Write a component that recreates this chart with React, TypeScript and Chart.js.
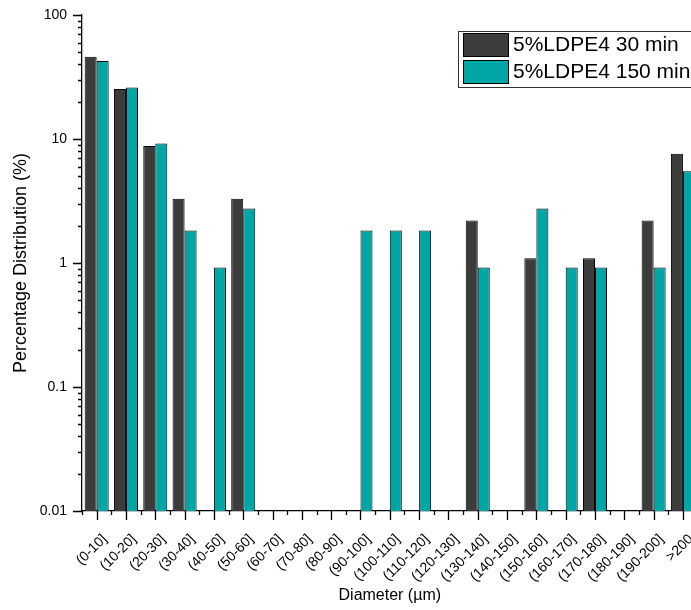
import React, { useEffect, useRef } from "react";
import { Chart, registerables } from "chart.js";

Chart.register(...registerables);

// Diameter classes (µm)
const categories = [
  "(0-10]", "(10-20]", "(20-30]", "(30-40]", "(40-50]", "(50-60]", "(60-70]",
  "(70-80]", "(80-90]", "(90-100]", "(100-110]", "(110-120]", "(120-130]",
  "(130-140]", "(140-150]", "(150-160]", "(160-170]", "(170-180]", "(180-190]",
  "(190-200]", ">200",
];

// Percentage distribution per class; null = empty class
const ldpe30 = [
  46.0, 25.3, 8.8, 3.3, null, 3.3, null, null, null, null, null, null, null,
  2.2, null, 1.09, null, 1.09, null, 2.2, 7.6,
];
const ldpe150 = [
  42.6, 26.0, 9.2, 1.83, 0.92, 2.75, null, null, null, 1.83, 1.83, 1.83, null,
  0.92, null, 2.75, 0.92, 0.92, null, 0.92, 5.5,
];

const seriesNames = ["5%LDPE4 30 min", "5%LDPE4 150 min"];
const seriesColors = ["#3c3c3c", "#00a6a6"];

const yTickLabels = ["0.01", "0.1", "1", "10", "100"];
const yDecades = yTickLabels.map(Number);

const FONT = 'Arial, "Liberation Sans", Helvetica, sans-serif';

const isDecade = (v: number) =>
  yDecades.some((d) => Math.abs(v - d) / d < 1e-6);

// Outward tick marks: long at decades / category centres, short in between
const tickMarks = {
  id: "tickMarks",
  afterDatasetsDraw(chart: any) {
    const { ctx, chartArea, scales } = chart;
    const x = scales.x;
    const y = scales.y;
    ctx.save();
    ctx.strokeStyle = "#000";
    ctx.lineWidth = 1.3;
    ctx.beginPath();
    y.ticks.forEach((t: any) => {
      const py = Math.round(y.getPixelForValue(t.value)) + 0.5;
      const len = isDecade(t.value) ? 9 : 4;
      ctx.moveTo(chartArea.left - len, py);
      ctx.lineTo(chartArea.left, py);
    });
    const n = categories.length;
    for (let i = 0; i < n; i++) {
      const px = Math.round(x.getPixelForValue(i)) + 0.5;
      ctx.moveTo(px, chartArea.bottom);
      ctx.lineTo(px, chartArea.bottom + 9);
    }
    for (let i = 0; i <= n; i++) {
      const px = Math.round(x.getPixelForValue(i - 0.5)) + 0.5;
      ctx.moveTo(px, chartArea.bottom);
      ctx.lineTo(px, chartArea.bottom + 4);
    }
    ctx.stroke();
    ctx.restore();
  },
};

// Boxed legend in the upper right of the plot
const boxLegend = {
  id: "boxLegend",
  afterDraw(chart: any) {
    const { ctx } = chart;
    const x0 = 458;
    const y0 = 31;
    ctx.save();
    ctx.fillStyle = "#fff";
    ctx.fillRect(x0, y0, 270, 56);
    ctx.strokeStyle = "#333";
    ctx.lineWidth = 1;
    ctx.strokeRect(x0 + 0.5, y0 + 0.5, 270, 56);
    chart.data.datasets.forEach((ds: any, i: number) => {
      const sy = y0 + 2 + i * 27;
      ctx.fillStyle = ds.backgroundColor;
      ctx.fillRect(x0 + 5, sy, 45, 23);
      ctx.strokeStyle = "#000";
      ctx.strokeRect(x0 + 5.5, sy + 0.5, 45, 23);
      ctx.fillStyle = "#000";
      ctx.font = `21px ${FONT}`;
      ctx.textBaseline = "middle";
      ctx.textAlign = "left";
      ctx.fillText(ds.label, x0 + 55, sy + 12.5);
    });
    ctx.restore();
  },
};

export default function App() {
  const ref = useRef<HTMLCanvasElement>(null);

  useEffect(() => {
    const chart = new Chart(ref.current as HTMLCanvasElement, {
      type: "bar",
      data: {
        labels: categories,
        datasets: [
          {
            label: seriesNames[0],
            data: ldpe30,
            backgroundColor: seriesColors[0],
            borderColor: "#000",
            borderWidth: 1,
            barPercentage: 1,
            categoryPercentage: 0.82,
          },
          {
            label: seriesNames[1],
            data: ldpe150,
            backgroundColor: seriesColors[1],
            borderColor: "#000",
            borderWidth: 1,
            barPercentage: 1,
            categoryPercentage: 0.82,
          },
        ],
      },
      options: {
        responsive: false,
        animation: false,
        devicePixelRatio: 1,
        layout: { padding: { left: 0, top: 15, right: 22.4, bottom: 0 } },
        plugins: {
          legend: { display: false },
          tooltip: { enabled: false },
        },
        scales: {
          x: {
            type: "category",
            offset: true,
            grid: { display: false, drawTicks: false },
            border: { display: true, color: "#000", width: 1.3 },
            ticks: {
              autoSkip: false,
              minRotation: 45,
              maxRotation: 45,
              padding: 20,
              labelOffset: 8,
              color: "#000",
              font: { family: FONT, size: 14 },
            },
            title: {
              display: true,
              text: "Diameter (µm)",
              color: "#000",
              font: { family: FONT, size: 16 },
              padding: { top: 0, bottom: 5 },
            },
            afterFit: (s: any) => {
              s.height = 99;
              s.paddingLeft = 0;
              s.paddingRight = 0;
            },
          },
          y: {
            type: "logarithmic",
            min: 0.01,
            max: 100,
            grid: { display: false, drawTicks: false },
            border: { display: true, color: "#000", width: 1.3 },
            afterBuildTicks: (s: any) => {
              const ticks: any[] = [];
              for (let e = -2; e < 2; e++) {
                for (let m = 1; m <= 9; m++) {
                  const v = Number((m * Math.pow(10, e)).toPrecision(6));
                  ticks.push({ value: v, major: m === 1 });
                }
              }
              ticks.push({ value: 100, major: true });
              s.ticks = ticks;
            },
            ticks: {
              autoSkip: false,
              padding: 15,
              color: "#000",
              font: { family: FONT, size: 14 },
              callback: (v: any) => {
                const idx = yDecades.findIndex(
                  (d) => Math.abs(Number(v) - d) / d < 1e-6
                );
                return idx >= 0 ? yTickLabels[idx] : "";
              },
            },
            title: {
              display: true,
              text: "Percentage Distribution (%)",
              color: "#000",
              font: { family: FONT, size: 18 },
              padding: { top: 10, bottom: 0 },
            },
            afterFit: (s: any) => {
              s.width = 82;
              s.paddingTop = 0;
              s.paddingBottom = 0;
            },
          },
        },
      },
      plugins: [tickMarks, boxLegend],
    });
    return () => chart.destroy();
  }, []);

  return (
    <div
      style={{
        position: "fixed",
        left: 0,
        top: 0,
        width: 691,
        height: 610,
        overflow: "hidden",
        background: "#fff",
      }}
    >
      <canvas
        ref={ref}
        width={720}
        height={610}
        style={{ display: "block", width: 720, height: 610 }}
      />
    </div>
  );
}
